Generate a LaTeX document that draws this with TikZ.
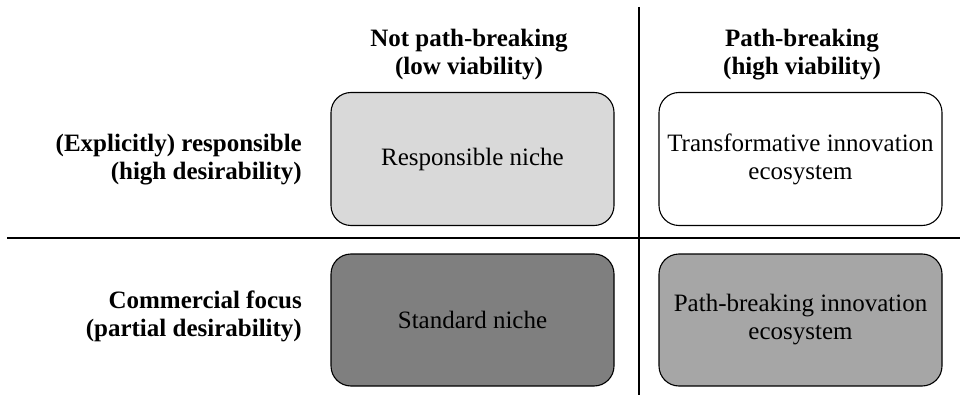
\documentclass[tikz,border=0pt]{standalone}
\usepackage{fontspec}
\setmainfont{Liberation Serif}
\definecolor{lightbox}{HTML}{D9D9D9}
\definecolor{darkbox}{HTML}{7F7F7F}
\definecolor{midbox}{HTML}{A6A6A6}
\tikzset{
  cell/.style={draw=black, line width=1.1pt, rounded corners=20pt, minimum width=283pt, minimum height=133pt, align=center, inner sep=2pt, font=\fontsize{25}{28}\selectfont},
  head/.style={align=center, inner sep=0pt, font=\bfseries\fontsize{25}{28}\selectfont},
  rowlab/.style={align=right, inner sep=0pt, anchor=east, font=\bfseries\fontsize{25}{28}\selectfont},
  divider/.style={draw=black, line width=1.3pt}
}
\begin{document}
\begin{tikzpicture}[x=1pt,y=-1pt]
\path[use as bounding box, fill=white] (0,0) rectangle (960,395);
% dividers
\coordinate (vtop) at (639,7);
\coordinate (vbot) at (639,395);
\coordinate (hl) at (7,238);
\coordinate (hr) at (960,238);
\draw[divider] (vtop) -- (vbot);
\draw[divider] (hl) -- (hr);
% headers
\node[head] (h1) at (469,55) {Not path-breaking\\(low viability)};
\node[head] (h2) at (802,55) {Path-breaking\\(high viability)};
% row labels
\node[rowlab] (r1) at (302,160) {(Explicitly) responsible\\(high desirability)};
\node[rowlab] (r2) at (302,316) {Commercial focus\\(partial desirability)};
% cells
\node[cell, fill=lightbox] (c11) at (472.5,159) {Responsible niche};
\node[cell, fill=white] (c12) at (800.5,159) {Transformative innovation\\ecosystem};
\node[cell, fill=darkbox, minimum height=132pt] (c21) at (472.5,320) {Standard niche};
\node[cell, fill=midbox, minimum height=132pt] (c22) at (800.5,320) {Path-breaking innovation\\ecosystem};
\end{tikzpicture}
\end{document}
